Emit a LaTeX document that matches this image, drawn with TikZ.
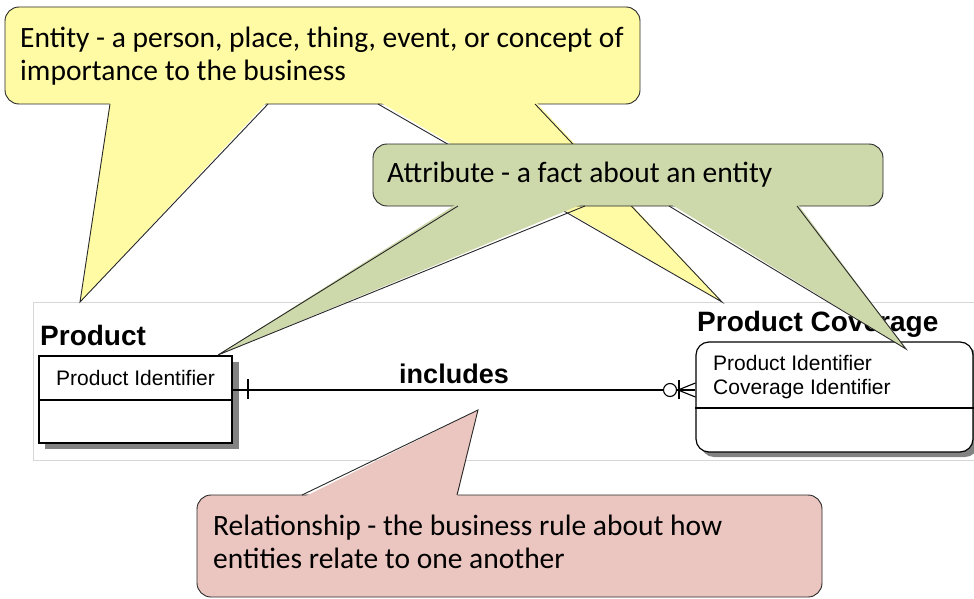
\documentclass[tikz,border=0pt]{standalone}
\usepackage{fontspec}
\setmainfont{Carlito}
\newfontfamily\erfont{Liberation Sans}
\definecolor{entyel}{RGB}{255,251,165}
\definecolor{attgrn}{RGB}{206,217,171}
\definecolor{relpnk}{RGB}{235,198,192}
\definecolor{edgec}{RGB}{40,40,40}
\definecolor{shadc}{RGB}{130,130,130}
\definecolor{framec}{RGB}{215,215,215}
\tikzset{
  calloutbox/.style={draw=edgec, line width=0.9pt, rounded corners=14pt, inner sep=0pt},
  ptrside/.style={draw=edgec, line width=0.9pt, line join=miter},
  ctext/.style={anchor=base west, inner sep=0pt, font=\fontsize{29.5}{34}\selectfont},
  erbox/.style={draw=black, line width=1.2pt, fill=white, inner sep=0pt},
  erline/.style={draw=black, line width=1.1pt},
  ertitle/.style={anchor=base west, inner sep=0pt, font=\erfont\bfseries\fontsize{28}{32}\selectfont},
  ertext/.style={anchor=base west, inner sep=0pt, font=\erfont\fontsize{21}{24}\selectfont},
  shadowfill/.style={fill=shadc}
}
\begin{document}
\begin{tikzpicture}[x=1pt,y=-1pt]
\useasboundingbox (0,0) rectangle (974,599);
\fill[white] (0,0) rectangle (974,599);

% ---------- ER diagram ----------
\draw[framec, line width=0.8pt] (33,302) rectangle (990,460);

\node[ertitle] (prodlbl) at (40,345) {Product};
\fill[shadowfill] (45,362) rectangle (239,449);
\node[erbox, minimum width=193pt, minimum height=87pt] (prod) at (135.5,399.5) {};
\coordinate (pdiv) at (0,400);
\draw[erline] (prod.west |- pdiv) -- (prod.east |- pdiv);
\node[ertext] (prodid) at (56,385) {Product Identifier};

\node[ertitle] (covlbl) at (697,331) {Product Coverage};
\fill[shadowfill, rounded corners=13pt] (701,347) rectangle (978,457);
\node[erbox, rounded corners=13pt, minimum width=277pt, minimum height=110pt] (cov) at (834.5,397) {};
\coordinate (cdiv) at (0,408);
\draw[erline] (cov.west |- cdiv) -- (cov.east |- cdiv);
\node[ertext] (covid1) at (713,370) {Product Identifier};
\node[ertext] (covid2) at (713,394) {Coverage Identifier};

% relationship line
\coordinate (rl) at (0,390);
\draw[erline] (prod.east |- rl) -- (cov.west |- rl);
\node[anchor=base, inner sep=0pt, font=\erfont\bfseries\fontsize{27}{32}\selectfont] (incl) at (454,383) {includes};
\draw[erline] (248,379) -- (248,399);
\draw[erline] (679,380) -- (679,399);
\draw[erline] (678,390) -- (cov.west |- 0,383);
\draw[erline] (678,390) -- (cov.west |- 0,397);
\draw[erline, fill=white] (670,390) circle[radius=6.5];

% ---------- Entity callout ----------
\node[calloutbox, fill=entyel, minimum width=635pt, minimum height=97pt] (entity) at (322.5,55.5) {};
\coordinate (etip1) at (80,302);
\coordinate (etip2) at (722,302);
\fill[entyel] (110,101) -- (etip1) -- (268,101) -- cycle;
\draw[ptrside] (110,104) -- (etip1) -- (268,104);
\fill[entyel] (378,101) -- (etip2) -- (535,101) -- cycle;
\draw[ptrside] (378,104) -- (etip2) -- (535,104);
\node[ctext] (et1) at (20,48) {Entity - a person, place, thing, event, or concept of};
\node[ctext] (et2) at (20,81) {importance to the business};

% ---------- Attribute callout ----------
\node[calloutbox, fill=attgrn, minimum width=510pt, minimum height=62pt] (attr) at (628,175) {};
\coordinate (atip1) at (218,355);
\coordinate (atip2) at (906,349);
\fill[attgrn] (458,203) -- (atip1) -- (585,203) -- cycle;
\draw[ptrside] (458,206) -- (atip1) -- (585,206);
\fill[attgrn] (669,203) -- (atip2) -- (797,203) -- cycle;
\draw[ptrside] (669,206) -- (atip2) -- (797,206);
\node[ctext] (at1) at (387,182) {Attribute - a fact about an entity};

% ---------- Relationship callout ----------
\node[calloutbox, fill=relpnk, minimum width=625pt, minimum height=102pt] (rel) at (509.5,546) {};
\coordinate (rtip) at (478,410);
\fill[relpnk] (302,498) -- (rtip) -- (457,498) -- cycle;
\draw[ptrside] (302,495) -- (rtip) -- (457,495);
\node[ctext] (rt1) at (213,535) {Relationship - the business rule about how};
\node[ctext] (rt2) at (213,568) {entities relate to one another};
\end{tikzpicture}
\end{document}
